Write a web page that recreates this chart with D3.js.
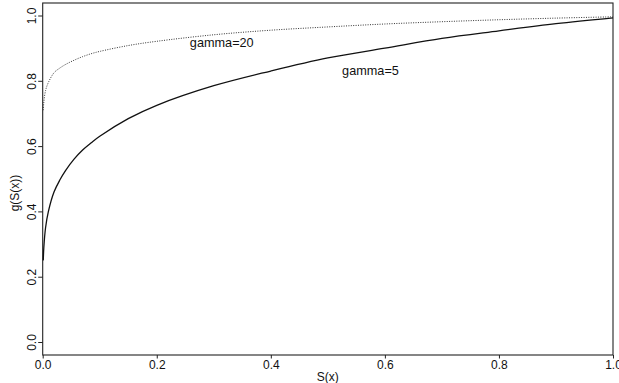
<!DOCTYPE html>
<html>
<head>
<meta charset="utf-8">
<script src="https://cdn.jsdelivr.net/npm/d3@7"></script>
<style>
  html, body { margin: 0; padding: 0; background: #fff; }
  svg { display: block; }
  text { font-family: "Liberation Sans", Arial, Helvetica, sans-serif; fill: #111; }
</style>
</head>
<body>
<svg id="chart" width="619" height="383"></svg>
<script>
// Survival value S(x) at which the distortion g(S(x)) was evaluated
const sValues = [0.001, 0.002, 0.005, 0.01, 0.02, 0.03, 0.04, 0.055, 0.07, 0.085, 0.1, 0.15, 0.2, 0.3, 0.4, 0.5, 0.6, 0.7, 0.8, 0.9, 1.0];
// g(S(x)) for gamma = 5 (solid) and gamma = 20 (dotted)
const gamma5 = [0.25, 0.29, 0.35, 0.40, 0.46, 0.496, 0.525, 0.56, 0.588, 0.61, 0.63, 0.684, 0.725, 0.785, 0.83, 0.87, 0.90, 0.93, 0.953, 0.975, 0.993];
const gamma20 = [0.71, 0.735, 0.77, 0.795, 0.825, 0.839, 0.85, 0.863, 0.874, 0.883, 0.89, 0.908, 0.921, 0.941, 0.955, 0.965, 0.974, 0.981, 0.987, 0.992, 0.996];
const xTicks = [0, 0.2, 0.4, 0.6, 0.8, 1.0];
const yTicks = [0, 0.2, 0.4, 0.6, 0.8, 1.0];
const curveLabels = [
  { text: "gamma=20", s: 0.258, g: 0.905 },
  { text: "gamma=5", s: 0.525, g: 0.819 }
];

const svg = d3.select("#chart");
const plotLeft = 42.7, plotRight = 613, plotTop = 3, plotBottom = 355;

const x = d3.scaleLinear().domain([0, 1]).range([plotLeft, plotRight]);
const y = d3.scaleLinear().domain([-0.0398, 1.0383]).range([plotBottom, plotTop]);

// plot frame
svg.append("rect")
  .attr("x", plotLeft).attr("y", plotTop)
  .attr("width", plotRight - plotLeft).attr("height", plotBottom - plotTop)
  .attr("fill", "none").attr("stroke", "#222").attr("stroke-width", 1.1);

// x axis
const xAxis = svg.append("g")
  .attr("transform", `translate(0,${plotBottom})`)
  .call(d3.axisBottom(x).tickValues(xTicks).tickFormat(d3.format(".1f")).tickSize(3.5).tickSizeOuter(0));
xAxis.select(".domain").remove();
xAxis.selectAll("line").attr("stroke", "#222");
xAxis.selectAll("text").attr("font-size", 12).attr("dy", null).attr("y", 14.3)
  .attr("font-family", "Liberation Sans, Arial, sans-serif").attr("fill", "#111");

// y axis with vertical labels
const yAxis = svg.append("g")
  .attr("transform", `translate(${plotLeft},0)`)
  .call(d3.axisLeft(y).tickValues(yTicks).tickFormat(d3.format(".1f")).tickSize(4.5).tickSizeOuter(0));
yAxis.select(".domain").remove();
yAxis.selectAll("line").attr("stroke", "#222");
yAxis.selectAll("text")
  .attr("font-size", 12)
  .attr("font-family", "Liberation Sans, Arial, sans-serif").attr("fill", "#111")
  .attr("x", null).attr("dy", null)
  .attr("text-anchor", "middle")
  .attr("transform", "translate(-7,0) rotate(-90)")
  .attr("y", 0);

// axis titles
svg.append("text")
  .attr("x", (plotLeft + plotRight) / 2).attr("y", 381)
  .attr("text-anchor", "middle").attr("font-size", 12)
  .text("S(x)");
svg.append("text")
  .attr("transform", "translate(19,193) rotate(-90)")
  .attr("text-anchor", "middle").attr("font-size", 12)
  .text("g(S(x))");

// curves
const line = d3.line().x(d => x(d[0])).y(d => y(d[1])).curve(d3.curveCatmullRom.alpha(0.5));

svg.append("path")
  .datum(sValues.map((s, i) => [s, gamma5[i]]))
  .attr("d", line)
  .attr("fill", "none").attr("stroke", "#111").attr("stroke-width", 1.3);

svg.append("path")
  .datum(sValues.map((s, i) => [s, gamma20[i]]))
  .attr("d", line)
  .attr("fill", "none").attr("stroke", "#333").attr("stroke-width", 1)
  .attr("stroke-dasharray", "1,1.4");

// curve labels
svg.selectAll(".clabel").data(curveLabels).enter().append("text")
  .attr("class", "clabel")
  .attr("x", d => x(d.s)).attr("y", d => y(d.g))
  .attr("font-size", 12.7)
  .text(d => d.text);
</script>
</body>
</html>
